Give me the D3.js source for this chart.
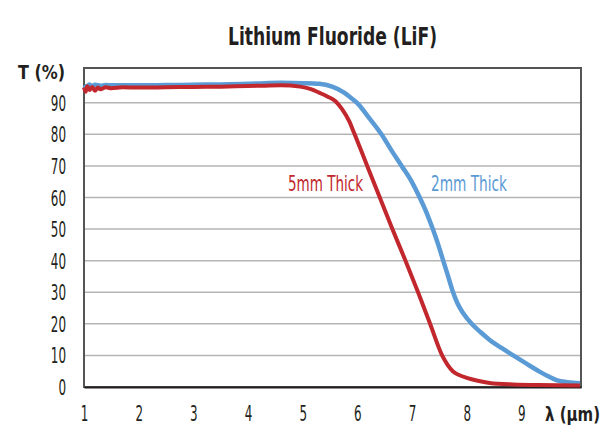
<!DOCTYPE html>
<html>
<head>
    <title>Lithium Fluoride (LiF)</title>
    <script type="text/javascript" src="https://cdn.jsdelivr.net/npm/d3@7/dist/d3.min.js"></script>
    <style type="text/css">
        body { margin: 0; background: #fff; }
        svg { display: block; }
        text { font-family: "DejaVu Sans Condensed", "DejaVu Sans", sans-serif; font-stretch: condensed; fill: #231f20; }
    </style>
</head>
<body>
    <svg id="chart" width="607" height="427"></svg>
</body>

<script type="text/javascript">

    // 2mm thick sample
    let blueX = [1.0, 1.05, 1.1, 1.15, 1.2, 1.3, 1.4, 1.5, 2, 2.5, 3, 3.5, 4, 4.3, 4.6, 5.0, 5.3, 5.55, 5.75, 5.9, 6.02, 6.2, 6.44, 6.62, 6.81, 7.0, 7.14, 7.27, 7.38, 7.48, 7.57, 7.66, 7.75, 7.83, 7.93, 8.09, 8.25, 8.42, 8.65, 8.85, 9.1, 9.34, 9.5, 9.64, 9.85, 10.07];
    let blueT = [95.5, 95.0, 95.8, 95.2, 95.7, 95.4, 95.6, 95.5, 95.5, 95.6, 95.7, 95.8, 96.0, 96.2, 96.3, 96.2, 96.0, 95.0, 93.3, 91.3, 89.5, 85.5, 80, 75, 70, 64.8, 60, 55, 50, 45, 40, 35, 30, 26.5, 23.5, 20, 17.4, 14.9, 12.2, 10, 7.3, 4.8, 3.3, 2.2, 1.5, 1.2];

    // 5mm thick sample
    let redX = [1.0, 1.03, 1.06, 1.1, 1.15, 1.2, 1.25, 1.3, 1.4, 1.5, 1.7, 2, 2.5, 3, 3.5, 4, 4.3, 4.6, 4.95, 5.15, 5.3, 5.45, 5.6, 5.72, 5.85, 5.95, 6.18, 6.41, 6.64, 6.88, 7.11, 7.33, 7.55, 7.65, 7.75, 7.87, 8.0, 8.2, 8.42, 8.85, 9.3, 10.07];
    let redT = [94.8, 93.5, 95.2, 94.0, 95.0, 93.8, 94.8, 94.3, 94.9, 94.6, 94.9, 94.8, 94.9, 95.0, 95.1, 95.3, 95.4, 95.5, 95.1, 94.3, 93.2, 92.0, 90.5, 88.0, 84.2, 80, 70, 60, 50, 40, 30, 20, 10, 7.0, 4.9, 3.7, 2.9, 2.0, 1.3, 0.8, 0.6, 0.5];

    let xTicks = [1, 2, 3, 4, 5, 6, 7, 8, 9];
    let yTicks = [0, 10, 20, 30, 40, 50, 60, 70, 80, 90];

    let plotLeft = 84, plotRight = 581, plotTop = 68, plotBottom = 387;
    let digitW = 7.6;

    let svg = d3.select("#chart");

    let x = d3.scaleLinear().domain([1, 10.09]).range([plotLeft, plotRight]);
    let y = d3.scaleLinear().domain([0, 101]).range([plotBottom, plotTop]);

    // grid
    svg.append("g")
        .selectAll("line")
        .data(yTicks.filter(d => d > 0))
        .enter().append("line")
        .attr("x1", plotLeft).attr("x2", plotRight)
        .attr("y1", d => y(d)).attr("y2", d => y(d))
        .attr("stroke", "#b5b5b5")
        .attr("stroke-width", 1.5);

    // frame
    svg.append("rect")
        .attr("x", plotLeft).attr("y", plotTop)
        .attr("width", plotRight - plotLeft).attr("height", plotBottom - plotTop)
        .attr("fill", "none")
        .attr("stroke", "#555")
        .attr("stroke-width", 2);

    let yAxis = d3.axisLeft(y).tickValues(yTicks).tickSize(0).tickPadding(18);
    let gy = svg.append("g").attr("transform", "translate(" + plotLeft + ",0)").call(yAxis);
    gy.select(".domain").remove();
    gy.selectAll("text")
        .attr("font-size", 21).attr("font-family", null).attr("dy", "0.36em")
        .attr("textLength", d => String(d).length * digitW)
        .attr("lengthAdjust", "spacingAndGlyphs");

    let xAxis = d3.axisBottom(x).tickValues(xTicks).tickSize(0).tickPadding(19);
    let gx = svg.append("g").attr("transform", "translate(0," + plotBottom + ")").call(xAxis);
    gx.select(".domain").attr("stroke", "#231f20").attr("stroke-width", 2);
    gx.selectAll("text")
        .attr("font-size", 21).attr("font-family", null).attr("dy", "0.71em")
        .attr("textLength", d => String(d).length * digitW)
        .attr("lengthAdjust", "spacingAndGlyphs");

    let line = d3.line()
        .x(d => x(d[0]))
        .y(d => y(d[1]))
        .curve(d3.curveMonotoneX);

    svg.append("path")
        .attr("d", line(d3.zip(blueX, blueT)))
        .attr("fill", "none")
        .attr("stroke", "#5b9bd5")
        .attr("stroke-width", 4.5)
        .attr("stroke-linejoin", "round");

    svg.append("path")
        .attr("d", line(d3.zip(redX, redT)))
        .attr("fill", "none")
        .attr("stroke", "#c1272d")
        .attr("stroke-width", 4)
        .attr("stroke-linejoin", "round");

    // title and axis labels
    svg.append("text")
        .attr("x", 228).attr("y", 45)
        .attr("font-size", 24).attr("font-weight", "bold")
        .attr("textLength", 209).attr("lengthAdjust", "spacingAndGlyphs")
        .text("Lithium Fluoride (LiF)");

    svg.append("text")
        .attr("x", 18).attr("y", 79)
        .attr("font-size", 20).attr("font-weight", "bold")
        .attr("textLength", 47).attr("lengthAdjust", "spacingAndGlyphs")
        .text("T (%)");

    svg.append("text")
        .attr("x", 545).attr("y", 421)
        .attr("font-size", 19).attr("font-weight", "bold")
        .attr("textLength", 55).attr("lengthAdjust", "spacingAndGlyphs")
        .text("λ (µm)");

    svg.append("text")
        .attr("x", 288).attr("y", 191)
        .attr("font-size", 21)
        .attr("textLength", 75).attr("lengthAdjust", "spacingAndGlyphs")
        .style("fill", "#c1272d")
        .text("5mm Thick");

    svg.append("text")
        .attr("x", 431).attr("y", 191)
        .attr("font-size", 21)
        .attr("textLength", 76).attr("lengthAdjust", "spacingAndGlyphs")
        .style("fill", "#5b9bd5")
        .text("2mm Thick");

</script>

</html>
